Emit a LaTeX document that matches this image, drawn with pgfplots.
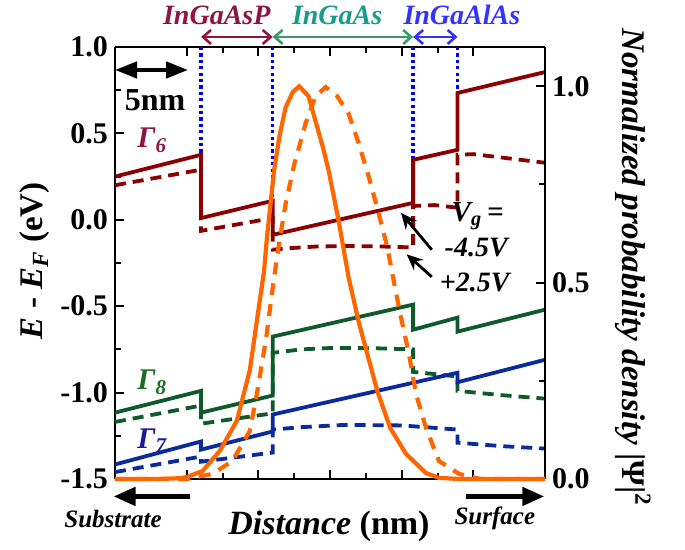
\documentclass[border=0pt]{standalone}
\usepackage{fontspec}
\setmainfont{Liberation Serif}
\usepackage{pgfplots}
\pgfplotsset{compat=1.18}
\usetikzlibrary{arrows.meta}

\definecolor{gsix}{HTML}{8B0000}
\definecolor{gsixtxt}{HTML}{8E1541}
\definecolor{geight}{HTML}{0E5A2A}
\definecolor{geighttxt}{HTML}{1F6B1F}
\definecolor{gseven}{HTML}{0A2A9E}
\definecolor{gseventxt}{HTML}{1A1A9A}
\definecolor{psi}{HTML}{FF6600}
\definecolor{ifc}{HTML}{0000FF}
\definecolor{qtxt}{HTML}{179C8C}
\definecolor{qarr}{HTML}{3A9A6A}
\definecolor{btxt}{HTML}{3333FF}

\pgfplotsset{
  base/.style={
    scale only axis, width=215pt, height=216pt,
    xmin=0, xmax=30, clip=false,
    axis line style={line width=1.3pt},
    tick style={line width=1pt, black},
    major tick length=4.5pt, minor tick length=3pt,
    tick align=inside,
    ticklabel style={font=\fontsize{15}{15}\selectfont\bfseries},
    /pgf/number format/assume math mode=true,
    yticklabel style={/pgf/number format/.cd, fixed, fixed zerofill, precision=1},
  },
  sol/.style={line width=1.9pt},
  das/.style={line width=1.9pt, dash pattern=on 5.5pt off 3.5pt},
  ifcl/.style={ifc, line width=1.7pt, dash pattern=on 1.6pt off 1.6pt},
}

\begin{document}
\begin{tikzpicture}
\begin{axis}[base, name=ax,
  ymin=-1.5, ymax=1,
  ytick={-1.5,-1,-0.5,0,0.5,1}, minor y tick num=1,
  xtick={5,10,15,20,25}, minor x tick num=1, xticklabels={},
  axis y line*=left]

% layer boundaries
\addplot[ifcl] coordinates {(6,1) (6,0.376)};
\addplot[ifcl] coordinates {(11,1) (11,0.12)};
\addplot[ifcl] coordinates {(20.8,1) (20.8,0.347)};
\addplot[ifcl] coordinates {(23.9,1) (23.9,0.734)};

% Gamma6
\addplot[gsix, sol] coordinates {(0,0.25) (6,0.376) (6,0.01) (11,0.11) (11,-0.087) (20.8,0.098) (20.8,0.347) (23.9,0.405) (23.9,0.734) (30,0.855)};
\addplot[gsix, das] coordinates {(0,0.20) (6,0.29) (6,-0.064) (11,0.01) (11,-0.173) (12,-0.165) (14,-0.155) (16,-0.152) (18,-0.153) (20.8,-0.16) (20.8,0.08) (22.3,0.085) (23.9,0.07) (23.9,0.376) (25,0.38) (27,0.36) (30,0.33)};
% Gamma8
\addplot[geight, sol] coordinates {(0,-1.116) (6,-0.99) (6,-1.116) (11,-1.017) (11,-0.676) (20.8,-0.491) (20.8,-0.636) (23.9,-0.566) (23.9,-0.647) (30,-0.52)};
\addplot[geight, das] coordinates {(0,-1.17) (6,-1.075) (6,-1.18) (11,-1.12) (11,-0.77) (13,-0.75) (15,-0.742) (18,-0.743) (20.8,-0.75) (20.8,-0.88) (23.9,-0.907) (23.9,-0.99) (27,-1.015) (30,-1.035)};
% Gamma7
\addplot[gseven, sol] coordinates {(0,-1.416) (6,-1.283) (6,-1.33) (11,-1.225) (11,-1.127) (23.9,-0.885) (23.9,-0.94) (30,-0.81)};
\addplot[gseven, das] coordinates {(0,-1.46) (6,-1.37) (6,-1.40) (11,-1.347) (11,-1.214) (13,-1.2) (16,-1.187) (20,-1.19) (23.9,-1.214) (23.9,-1.29) (27,-1.31) (30,-1.324)};

% labels inside
\node[gsixtxt, font=\fontsize{15}{15}\selectfont\bfseries\itshape] at (axis cs:2.6,0.46) {Γ\textsubscript{6}};
\node[geighttxt, font=\fontsize{15}{15}\selectfont\bfseries\itshape] at (axis cs:2.6,-0.94) {Γ\textsubscript{8}};
\node[gseventxt, font=\fontsize{15}{15}\selectfont\bfseries\itshape] at (axis cs:2.6,-1.28) {Γ\textsubscript{7}};

\draw[black, line width=2.2pt, {Triangle[length=11pt,width=8pt]}-{Triangle[length=11pt,width=8pt]}] (axis cs:0,0.867) -- (axis cs:5.1,0.867);
\node[font=\fontsize{16}{16}\selectfont\bfseries] at (axis cs:2.8,0.694) {5nm};

\node[font=\fontsize{14.5}{14.5}\selectfont\bfseries\itshape] at (axis cs:25.3,0.02) {V\textsubscript{g}\,=};
\node[font=\fontsize{14}{14}\selectfont\bfseries\itshape] at (axis cs:25.2,-0.16) {-4.5V};
\node[font=\fontsize{14}{14}\selectfont\bfseries\itshape] at (axis cs:25.1,-0.364) {+2.5V};
\draw[line width=1.4pt, -{Stealth[length=8pt,width=7pt]}] (axis cs:22.1,-0.173) -- (axis cs:19.95,0.04);
\draw[line width=1.4pt, -{Stealth[length=8pt,width=7pt]}] (axis cs:22.1,-0.33) -- (axis cs:20.35,-0.2);

% layer arrows on top
\draw[gsixtxt, line width=1.3pt, {Straight Barb[length=4pt,width=7pt]}-{Straight Barb[length=4pt,width=7pt]}] (axis cs:6,1.058) -- (axis cs:11,1.058);
\draw[qarr, line width=1.3pt, {Straight Barb[length=4pt,width=7pt]}-{Straight Barb[length=4pt,width=7pt]}] (axis cs:11,1.058) -- (axis cs:20.8,1.058);
\draw[btxt, line width=1.3pt, {Straight Barb[length=4pt,width=7pt]}-{Straight Barb[length=4pt,width=7pt]}] (axis cs:20.8,1.058) -- (axis cs:23.9,1.058);
\node[gsixtxt, font=\fontsize{14}{14}\selectfont\bfseries\itshape] at (axis cs:7.1,1.185) {InGaAsP};
\node[qtxt, font=\fontsize{14}{14}\selectfont\bfseries\itshape] at (axis cs:15.5,1.185) {InGaAs};
\node[btxt, font=\fontsize{14}{14}\selectfont\bfseries\itshape] at (axis cs:24.2,1.185) {InGaAlAs};

% below axis
\draw[line width=2.4pt, -{Triangle[length=11pt,width=9pt]}] (axis cs:5.2,-1.601) -- (axis cs:-0.1,-1.601);
\draw[line width=2.4pt, -{Triangle[length=11pt,width=9pt]}] (axis cs:24.5,-1.601) -- (axis cs:29.95,-1.601);
\node[font=\fontsize{12.5}{12.5}\selectfont\bfseries\itshape] at (axis cs:-0.14,-1.73) {Substrate};
\node[font=\fontsize{12.5}{12.5}\selectfont\bfseries\itshape] at (axis cs:26.5,-1.73) {Surface};
\node[font=\fontsize{17}{17}\selectfont\bfseries] at (axis cs:14.93,-1.775) {\textit{Distance} (nm)};

% axis titles
\node[rotate=90, font=\fontsize{16.5}{16.5}\selectfont\bfseries] at (rel axis cs:-0.186,0.505) {\textit{E} - \textit{E}\textsubscript{\textit{F}} (eV)};
\end{axis}

\begin{axis}[base,
  ymin=0, ymax=1.1,
  ytick={0,0.5,1}, minor y tick num=1,
  axis y line*=right, axis x line=none]
\addplot[psi, line width=2.1pt] coordinates {(0,0) (3,0) (4.5,0.002) (5.0,0.005) (6.1,0.02) (7.3,0.071) (8.5,0.148) (9.4,0.276) (10.4,0.53) (10.6,0.615) (11.1,0.786) (11.46,0.87) (11.9,0.946) (12.4,0.985) (12.85,1.0) (13.5,0.975) (14.5,0.845) (14.9,0.786) (15.6,0.658) (16.3,0.513) (17.0,0.40) (18.3,0.224) (19.2,0.13) (20.3,0.064) (21.7,0.015) (22.6,0.003) (24,0) (30,0)};
\addplot[psi, line width=2.1pt, dash pattern=on 6pt off 4.5pt] coordinates {(0,0) (5,0) (6.8,0.013) (8.2,0.046) (9.4,0.122) (9.9,0.217) (10.55,0.36) (11.1,0.513) (11.45,0.60) (11.9,0.70) (12.5,0.80) (13.3,0.906) (14.0,0.975) (14.7,0.998) (15.5,0.975) (16.3,0.93) (17.0,0.855) (17.7,0.77) (18.4,0.676) (19.0,0.59) (19.4,0.513) (19.9,0.42) (20.5,0.32) (21.0,0.217) (21.7,0.13) (22.6,0.046) (24.0,0.013) (25.5,0) (30,0)};
\node[rotate=-90, font=\fontsize{16.5}{16.5}\selectfont\bfseries] at (rel axis cs:1.205,0.49) {\textit{Normalized probability density} |Ψ|\textsuperscript{2}};
\end{axis}
\pgfresetboundingbox
\path[use as bounding box] ([shift={(-57.5pt,-35.5pt)}]ax.south west) rectangle ([shift={(70pt,23.5pt)}]ax.north east);
\end{tikzpicture}
\end{document}
